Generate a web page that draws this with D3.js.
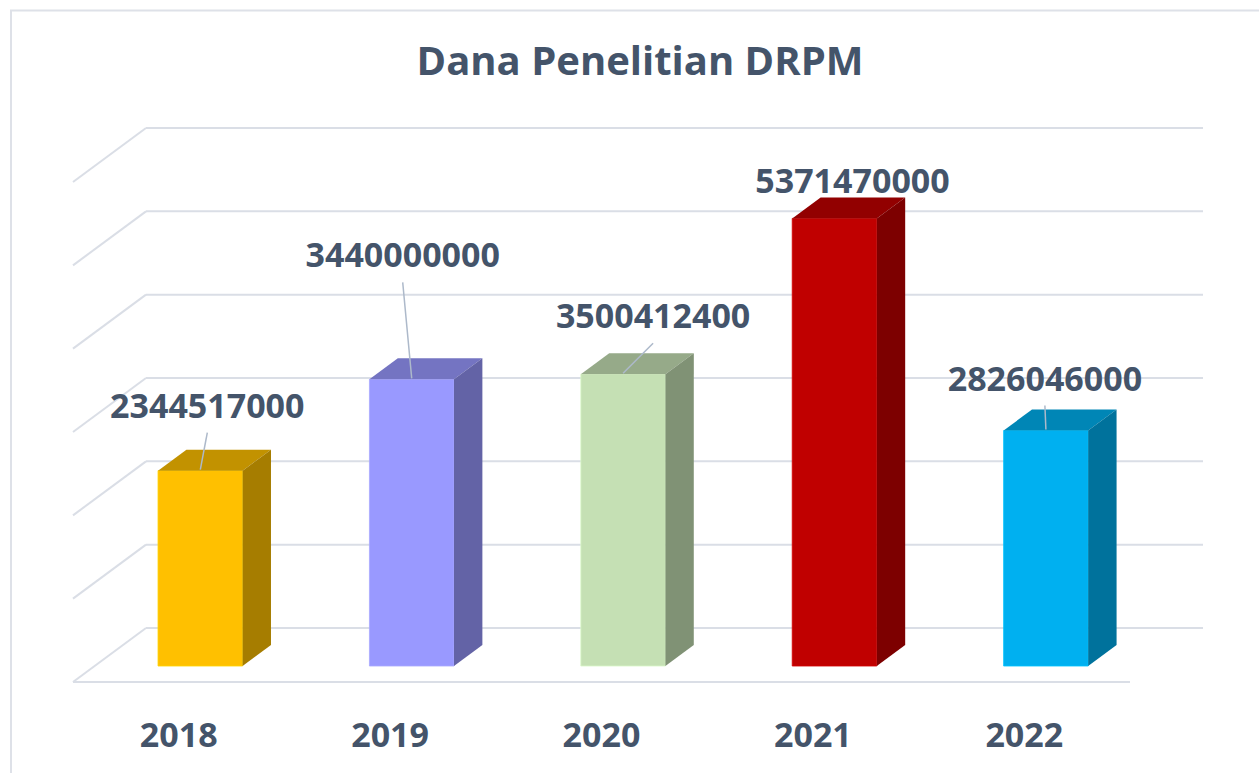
<!DOCTYPE html>
<meta charset="utf-8">
<script src="https://d3js.org/d3.v7.min.js"></script>
<style>
  body { margin: 0; background: #fff; }
  text { font-family: "Open Sans", sans-serif; font-weight: 700; fill: #44546A; }
</style>
<div id="chart"></div>
<script>
// data
const years = ["2018", "2019", "2020", "2021", "2022"];
const funds = [2344517000, 3440000000, 3500412400, 5371470000, 2826046000];
const frontColors = ["#FFC000", "#9999FF", "#C5E0B4", "#C00000", "#00B0F0"];
// label nudges (dx, dy) from the default spot over each bar, and whether a leader line is drawn
const labelDx = [7, -9, 30, 18, -1];
const labelDy = [-53, -112, -46, -25, -40];
const showLeader = [true, true, true, false, true];

const W = 1259, H = 773;
const floorY = 682, floorX0 = 73, floorX1 = 1130;
const depthX = 73, depthY = -54;   // full depth of the box
const z0 = 0.296, z1 = 0.685;       // bar front / back depth

const svg = d3.select("#chart").append("svg")
  .attr("width", W).attr("height", H);

// chart border
svg.append("rect")
  .attr("x", 11).attr("y", 10.5)
  .attr("width", W + 20).attr("height", H + 20)
  .attr("fill", "none").attr("stroke", "#DEE1E8").attr("stroke-width", 2);

const x = d3.scaleBand().domain(years).range([floorX0, floorX1])
  .paddingInner(0.6).paddingOuter(0.3);
const y = d3.scaleLinear().domain([0, 6e9]).range([0, 500]);

// project a point (front x, depth z, value v) onto the page
function P(px, z, v) {
  return [px + z * depthX, floorY + z * depthY - y(v)];
}

const gridColor = "#DADEE6";
const grid = svg.append("g").attr("stroke", gridColor).attr("stroke-width", 2).attr("fill", "none");
const ticks = y.ticks(6);

// back wall lines
grid.selectAll(".back").data(ticks).join("line")
  .attr("x1", d => P(floorX0, 1, d)[0]).attr("y1", d => P(floorX0, 1, d)[1])
  .attr("x2", d => P(floorX1, 1, d)[0]).attr("y2", d => P(floorX1, 1, d)[1]);
// side wall lines
grid.selectAll(".side").data(ticks).join("line")
  .attr("x1", d => P(floorX0, 0, d)[0]).attr("y1", d => P(floorX0, 0, d)[1])
  .attr("x2", d => P(floorX0, 1, d)[0]).attr("y2", d => P(floorX0, 1, d)[1]);
// floor front edge
grid.append("line")
  .attr("x1", floorX0).attr("y1", floorY).attr("x2", floorX1).attr("y2", floorY);

// bars
const bars = years.map((yr, i) => ({ yr, v: funds[i], c: d3.color(frontColors[i]) }));
const poly = pts => "M" + pts.map(p => p.join(",")).join("L") + "Z";
const barG = svg.append("g").selectAll("g").data(bars).join("g");

barG.append("path") // front
  .attr("d", d => {
    const a = x(d.yr), b = a + x.bandwidth();
    return poly([P(a, z0, 0), P(b, z0, 0), P(b, z0, d.v), P(a, z0, d.v)]);
  })
  .attr("fill", d => d.c).attr("stroke", d => d.c.brighter(0.3)).attr("stroke-width", 0.8);
barG.append("path") // top
  .attr("d", d => {
    const a = x(d.yr), b = a + x.bandwidth();
    return poly([P(a, z0, d.v), P(b, z0, d.v), P(b, z1, d.v), P(a, z1, d.v)]);
  })
  .attr("fill", d => d3.rgb(d.c.r * 0.76, d.c.g * 0.76, d.c.b * 0.76));
barG.append("path") // side
  .attr("d", d => {
    const b = x(d.yr) + x.bandwidth();
    return poly([P(b, z0, 0), P(b, z1, 0), P(b, z1, d.v), P(b, z0, d.v)]);
  })
  .attr("fill", d => d3.rgb(d.c.r * 0.65, d.c.g * 0.65, d.c.b * 0.65));

// data labels + leader lines
bars.forEach((d, i) => {
  const cx = x(d.yr) + x.bandwidth() / 2;
  const top = P(cx, z0, d.v);
  const lx = top[0] + labelDx[i], ly = top[1] + labelDy[i];
  if (showLeader[i]) {
    svg.append("line")
      .attr("x1", lx).attr("y1", ly + 15)
      .attr("x2", top[0]).attr("y2", top[1] - 1)
      .attr("stroke", "#ADB9CA").attr("stroke-width", 1.5);
  }
  svg.append("text")
    .attr("x", lx).attr("y", ly)
    .attr("text-anchor", "middle")
    .style("font-size", "34px")
    .text(d.v);
});

// category labels along the front edge of the floor
svg.append("g").selectAll("text").data(years).join("text")
  .attr("x", d => x(d) + x.bandwidth() / 2)
  .attr("y", 747)
  .attr("text-anchor", "middle")
  .style("font-size", "34px")
  .text(d => d);

// title
svg.append("text")
  .attr("x", 640).attr("y", 75)
  .attr("text-anchor", "middle")
  .style("font-size", "40px")
  .text("Dana Penelitian DRPM");
</script>
